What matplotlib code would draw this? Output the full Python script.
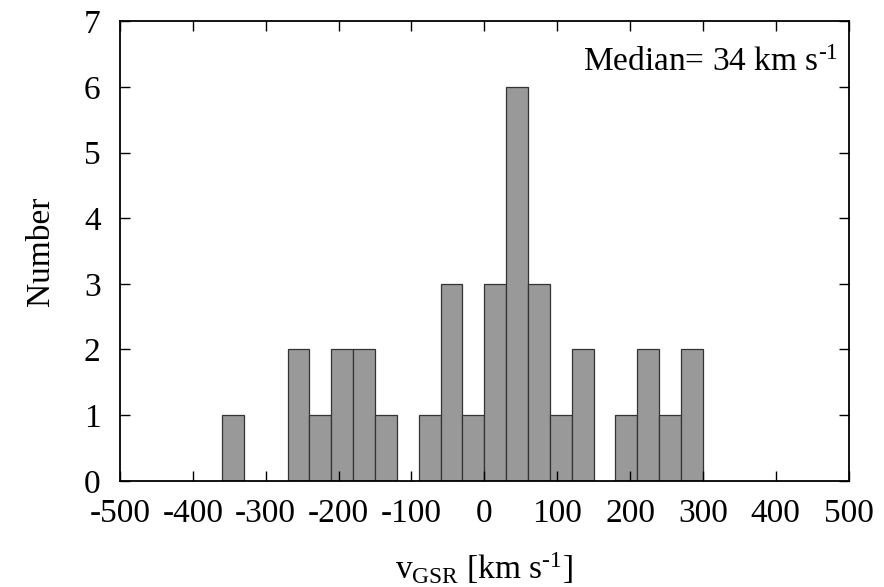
import matplotlib
matplotlib.use("Agg")
import matplotlib.pyplot as plt

plt.rcParams['font.family'] = ['Liberation Serif', 'DejaVu Serif']
plt.rcParams['mathtext.fontset'] = 'custom'
plt.rcParams['mathtext.rm'] = 'Liberation Serif'
plt.rcParams['mathtext.it'] = 'Liberation Serif:italic'
plt.rcParams['axes.unicode_minus'] = False

bin_width = 30
bin_centers = [-345, -315, -285, -255, -225, -195, -165, -135, -105, -75, -45, -15,
               15, 45, 75, 105, 135, 165, 195, 225, 255, 285]
counts = [1, 0, 0, 2, 1, 2, 2, 1, 0, 1, 3, 1,
          3, 6, 3, 1, 2, 0, 1, 2, 1, 2]
x_ticks = [-500, -400, -300, -200, -100, 0, 100, 200, 300, 400, 500]
y_ticks = [0, 1, 2, 3, 4, 5, 6, 7]
median_text = "Median= 34 km s$^{\\text{-1}}$"
x_label = "v$_{\\rm GSR}$ [km s$^{\\text{-1}}$]"
y_label = "Number"

fig = plt.figure(figsize=(8.84, 5.87), dpi=100)
ax = fig.add_axes([0.1357, 0.181, 0.9600 - 0.1357, 0.9637 - 0.181])

xs = [c for c, n in zip(bin_centers, counts) if n > 0]
hs = [n for n in counts if n > 0]
ax.bar(xs, hs, width=bin_width, color='#999999', edgecolor='#333333', linewidth=0.9)

ax.set_xlim(-500, 500)
ax.set_ylim(0, 7)
ax.set_xticks(x_ticks)
ax.set_yticks(y_ticks)
ax.set_xticklabels([str(v) for v in x_ticks])
ax.set_yticklabels([str(v) for v in y_ticks])
ax.tick_params(direction='in', top=True, right=True, length=7, width=1.0,
               labelsize=24, colors='black')
ax.tick_params(axis='x', pad=13)
ax.tick_params(axis='y', pad=14)
for s in ax.spines.values():
    s.set_linewidth(1.3)

ax.set_xlabel(x_label, fontsize=24, labelpad=15)
ax.set_ylabel(y_label, fontsize=24, labelpad=20)

ax.text(0.985, 0.944, median_text, transform=ax.transAxes, ha='right', va='top', fontsize=24)

fig.savefig("out.png", dpi=100)
